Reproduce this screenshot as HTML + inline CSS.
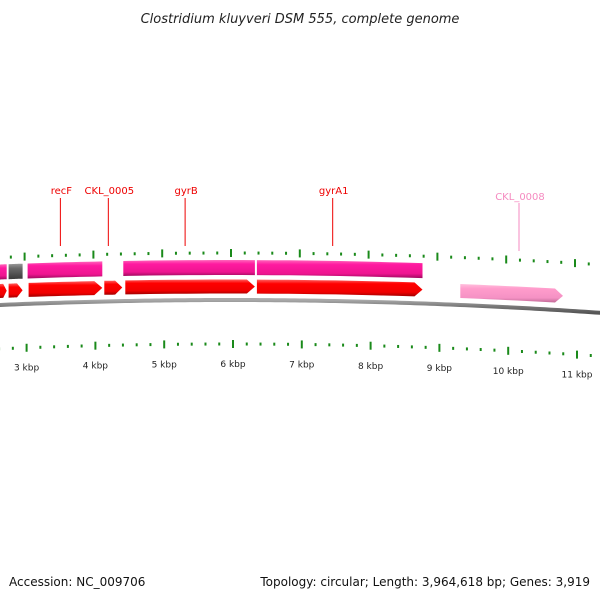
<!DOCTYPE html>
<html><head><meta charset="utf-8"><style>
body{margin:0;background:#fff;}
svg{display:block;font-family:"DejaVu Sans","Liberation Sans",sans-serif;}
</style></head><body>
<svg id="chart" width="600" height="600" viewBox="0 0 600 600">
<text x="300" y="23" text-anchor="middle" font-size="13" font-style="italic" fill="#222">Clostridium kluyveri DSM 555, complete genome</text>
<text x="9" y="586" font-size="12" fill="#111">Accession: NC_009706</text>
<text x="590" y="586" font-size="12" fill="#111" text-anchor="end">Topology: circular; Length: 3,964,618 bp; Genes: 3,919</text>
<defs>
<linearGradient id="gMag" x1="0" y1="0" x2="0" y2="1"><stop offset="0" stop-color="#ff66bb"/><stop offset="0.25" stop-color="#ff1aa0"/><stop offset="0.75" stop-color="#ee1590"/><stop offset="1" stop-color="#a00a60"/></linearGradient>
<linearGradient id="gRed" x1="0" y1="0" x2="0" y2="1"><stop offset="0" stop-color="#ff6060"/><stop offset="0.25" stop-color="#ff0000"/><stop offset="0.75" stop-color="#f00000"/><stop offset="1" stop-color="#a00000"/></linearGradient>
<linearGradient id="gPink" x1="0" y1="0" x2="0" y2="1"><stop offset="0" stop-color="#ffc0dd"/><stop offset="0.25" stop-color="#ff9ccc"/><stop offset="0.75" stop-color="#f592c4"/><stop offset="1" stop-color="#c06a96"/></linearGradient>
<linearGradient id="gGray" x1="0" y1="0" x2="0" y2="1"><stop offset="0" stop-color="#999"/><stop offset="0.3" stop-color="#6a6a6a"/><stop offset="1" stop-color="#3a3a3a"/></linearGradient>
<linearGradient id="gLine" x1="0" y1="0" x2="0" y2="1"><stop offset="0" stop-color="#aaa"/><stop offset="0.5" stop-color="#777"/><stop offset="1" stop-color="#555"/></linearGradient>
</defs>
<g id="layer"></g>
</svg>
<script>
// data (kbp)
const tickMajors = [3,4,5,6,7,8,9,10,11];
const tickLabels = ["3 kbp","4 kbp","5 kbp","6 kbp","7 kbp","8 kbp","9 kbp","10 kbp","11 kbp"];
const upperStarts = [2.60, 2.768, 3.043, 4.435, 6.377];
const upperEnds   = [2.740, 2.971, 4.130, 6.348, 8.783];
const upperKinds  = ["mag","gray","mag","mag","mag"];
const lowerStarts = [2.60, 2.768, 3.058, 4.159, 4.464, 6.377, 9.333];
const lowerEnds   = [2.740, 2.971, 4.130, 4.420, 6.348, 8.783, 10.826];
const lowerKinds  = ["red","red","red","red","red","red","pink"];
const geneLabels  = ["recF","CKL_0005","gyrB","gyrA1","CKL_0008"];
const geneLabelPos= [3.52, 4.217, 5.333, 7.478, 10.186];
const geneLabelColors = ["red","red","red","red","pink"];

const NS="http://www.w3.org/2000/svg";
const layer=document.getElementById('layer');
function X(k){return 231+(k-6)*68.8;}
function off(x){return 8.5e-5*(x-230)*(x-230);}
function mk(tag,attrs){const e=document.createElementNS(NS,tag);for(const a in attrs)e.setAttribute(a,attrs[a]);layer.appendChild(e);return e;}

// backbone line
let d="";for(let x=-5;x<=605;x+=5){d+=(x===-5?"M":"L")+x+","+(300+off(x)*1.1).toFixed(2);}
let bb=mk('path',{d:d,stroke:"url(#gLine)","stroke-width":4,fill:"none"});



// ticks
for(let k=2.4;k<=11.81;k+=0.2){
  const kk=Math.round(k*5)/5;const major=Math.abs(kk-Math.round(kk))<0.01;
  const x=X(kk);
  const h=major?8:3;
  let yt=253+off(x), yb=344+off(x)*1.05;
  let t1=mk('line',{x1:x,x2:x,y1:yt-h/2,y2:yt+h/2,stroke:"#1a8a1a","stroke-width":2});
  
  
  let t2=mk('line',{x1:x+2,x2:x+2,y1:yb-h/2,y2:yb+h/2,stroke:"#1a8a1a","stroke-width":2});
  
  
}
tickMajors.forEach((k,i)=>{
  const x=X(k)+2;
  const t=mk('text',{x:x,y:(367+off(x)*1.05).toFixed(1),"font-size":9,"text-anchor":"middle",fill:"#222"});
  t.textContent=tickLabels[i];
  
  
});

function gene(s,e,kind,top,h,arrow){
  const x1=Math.max(X(s),-2),x2=X(e);
  const fill={mag:"url(#gMag)",red:"url(#gRed)",pink:"url(#gPink)",gray:"url(#gGray)"}[kind];
  const ah=arrow?Math.min(8,(x2-x1)*0.4):0;
  let pts=[];
  const n=10;
  for(let i=0;i<=n;i++){const x=x1+(x2-ah-x1)*i/n;pts.push([x,top+off(x)]);}
  if(arrow)pts.push([x2,top+h/2+off(x2)]);
  for(let i=n;i>=0;i--){const x=x1+(x2-ah-x1)*i/n;pts.push([x,top+h+off(x)]);}
  const p=mk('polygon',{points:pts.map(p=>p[0].toFixed(1)+","+p[1].toFixed(1)).join(" "),fill:fill});
  return p;
}
upperStarts.forEach((s,i)=>{
  const p=gene(s,upperEnds[i],upperKinds[i],260,15,false);
  
  
});
lowerStarts.forEach((s,i)=>{
  const p=gene(s,lowerEnds[i],lowerKinds[i],279.5,14,true);
  
  
});
geneLabels.forEach((g,i)=>{
  const x=X(geneLabelPos[i]);
  const c=geneLabelColors[i]==="pink"?"#f58ac0":"#ee0000";
  const pink=geneLabelColors[i]==="pink";
  const l=mk('line',{x1:x,x2:x,y1:pink?203:198,y2:pink?251:246,stroke:c,"stroke-width":1});
  
  
  const t=mk('text',{x:x+1,y:pink?200:194,"font-size":10,"text-anchor":"middle",fill:c});
  t.textContent=g;
  
  
});
</script>
</body></html>
